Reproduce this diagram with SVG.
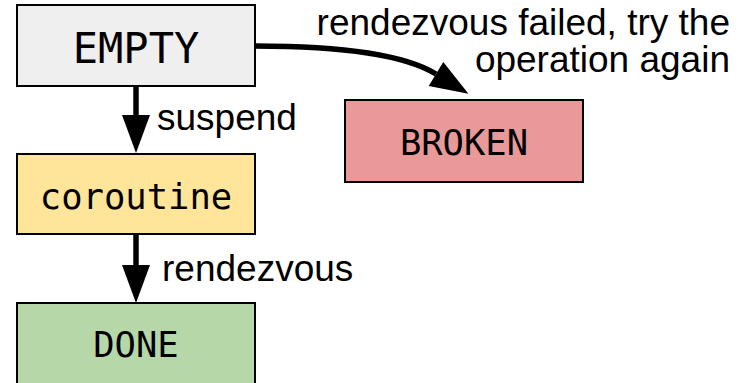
<svg xmlns="http://www.w3.org/2000/svg" width="745" height="383" viewBox="0 0 745 383">
  <style>
    .box { stroke: #000; stroke-width: 2; }
    .state { font-family: "DejaVu Sans Mono", "Liberation Mono", monospace; font-size: 35.5px; fill: #000; text-anchor: middle; }
    .lbl { font-family: "Liberation Sans", Arial, sans-serif; font-size: 37px; fill: #000; }
    .edge { fill: none; stroke: #000; stroke-width: 5.5; }
  </style>
  <defs>
    <marker id="head" markerUnits="userSpaceOnUse" markerWidth="40" markerHeight="30" refX="0" refY="14" orient="auto" overflow="visible">
      <path d="M0,0 L38,14 L0,28 z" fill="#000"/>
    </marker>
  </defs>
  <rect width="745" height="383" fill="#fff"/>

  <g id="edges">
    <path class="edge" d="M136,86 V115" marker-end="url(#head)"/>
    <path class="edge" d="M136,234 V265" marker-end="url(#head)"/>
    <path class="edge" d="M255,46 C330,46 400,52 436,74" marker-end="url(#head)"/>
    <text class="lbl" x="157" y="130">suspend</text>
    <text class="lbl" x="162" y="281">rendezvous</text>
    <text class="lbl" x="730" y="35" text-anchor="end">rendezvous failed, try the</text>
    <text class="lbl" x="730" y="72" text-anchor="end">operation again</text>
  </g>

  <g id="empty">
    <rect class="box" x="17" y="5" width="238" height="81" fill="#efefef"/>
    <text class="state" x="136" y="63" style="font-size:42px">EMPTY</text>
  </g>
  <g id="coroutine">
    <rect class="box" x="17" y="154" width="238" height="80" fill="#ffe599"/>
    <text class="state" x="136" y="209">coroutine</text>
  </g>
  <g id="broken">
    <rect class="box" x="345" y="100" width="238" height="82" fill="#ea9999"/>
    <text class="state" x="464" y="155">BROKEN</text>
  </g>
  <g id="done">
    <rect class="box" x="17" y="303" width="238" height="81" fill="#b6d7a8"/>
    <text class="state" x="136" y="357">DONE</text>
  </g>
</svg>
